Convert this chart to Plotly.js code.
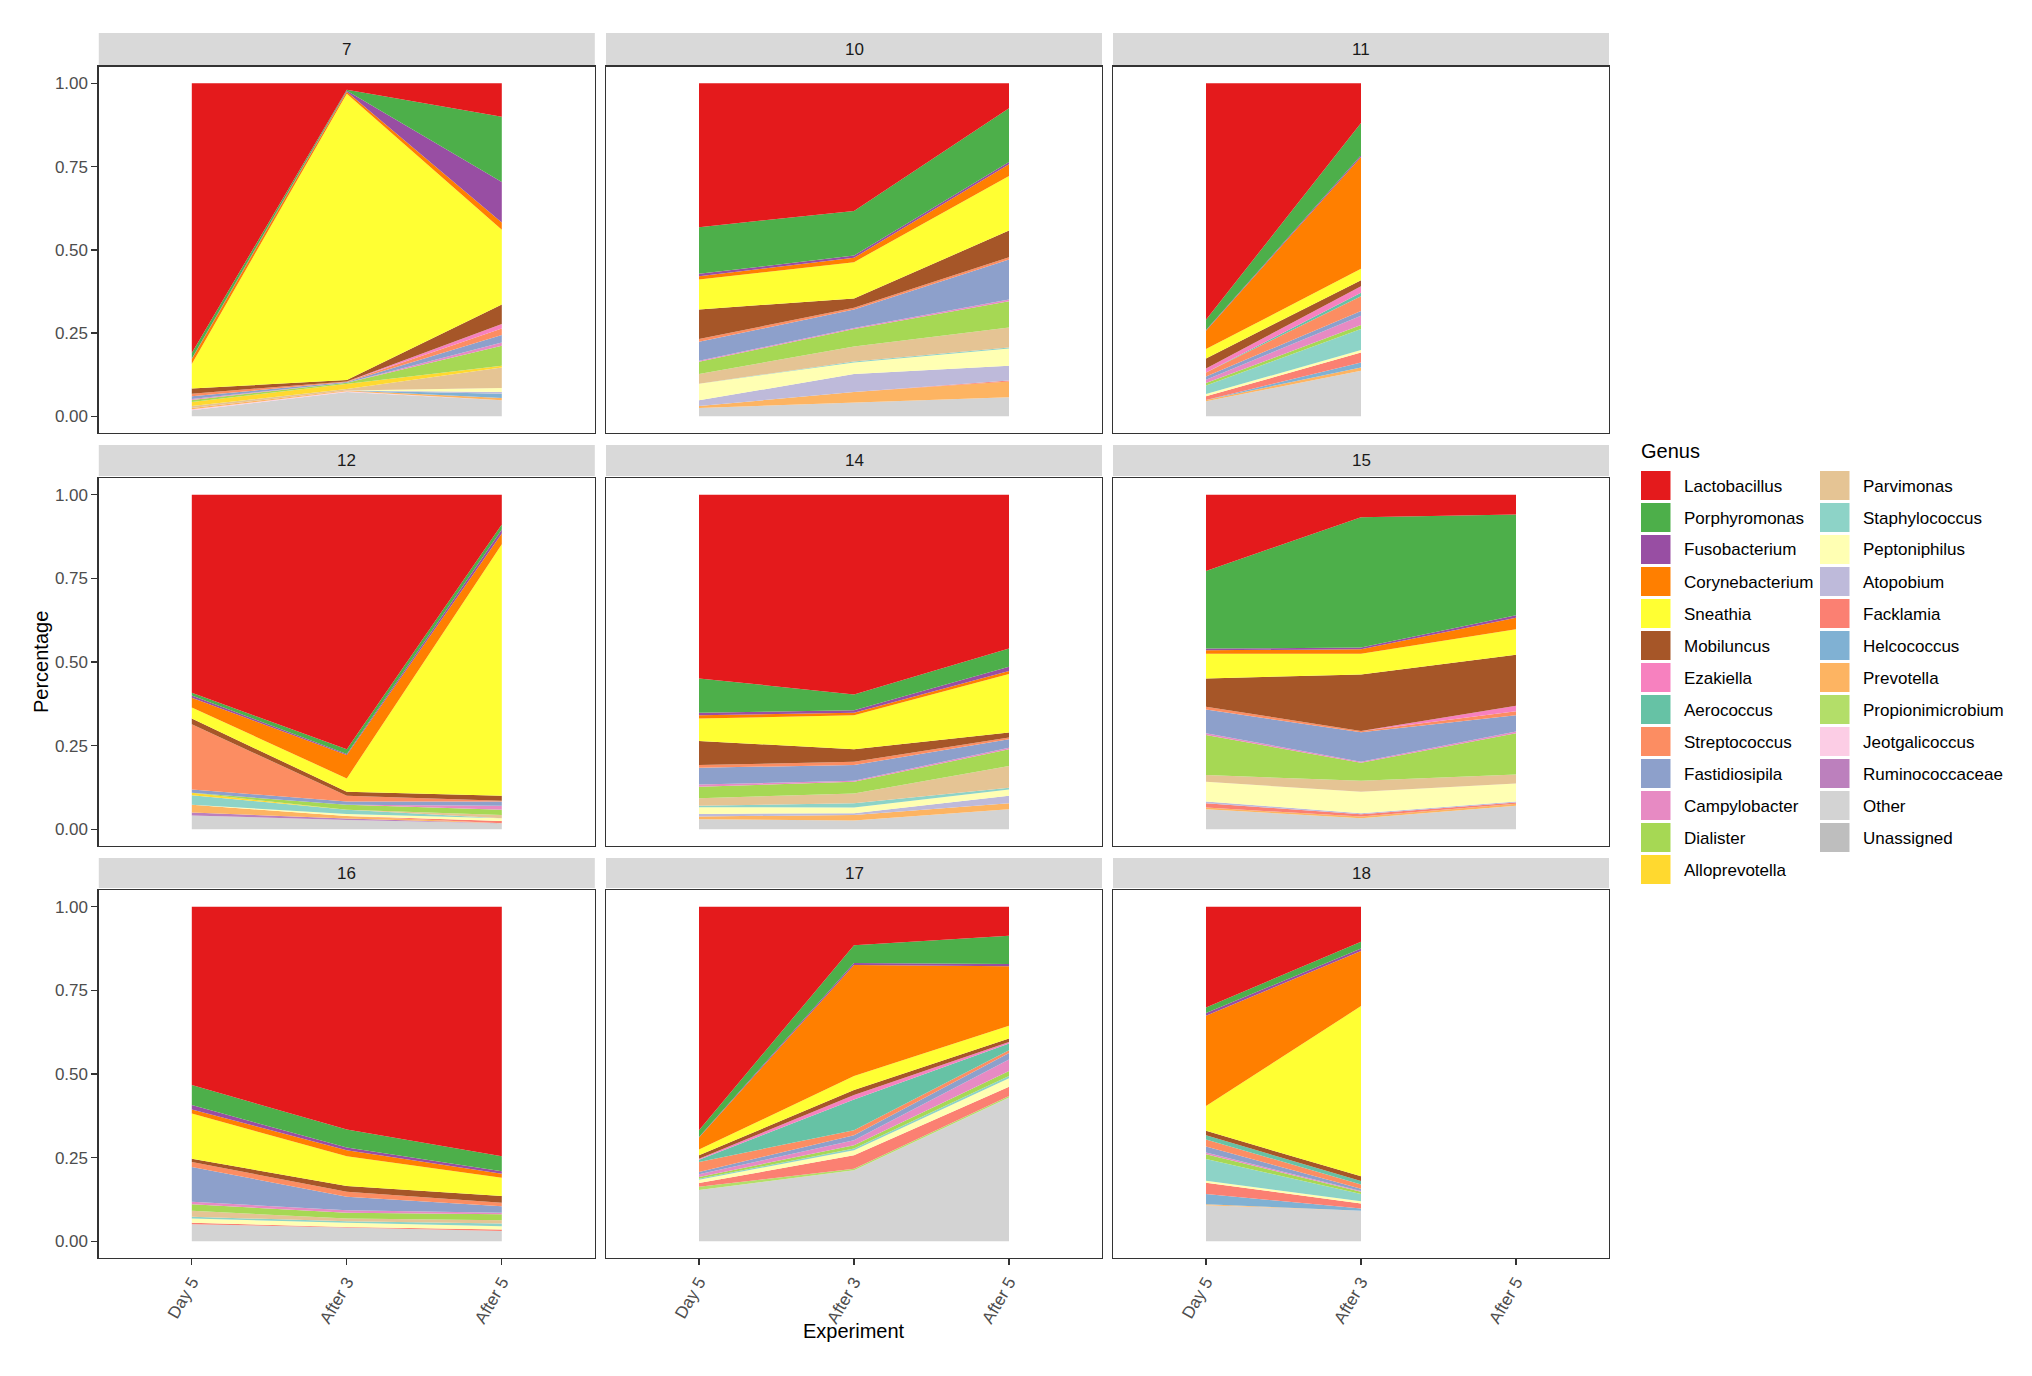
<!DOCTYPE html>
<html>
<head>
<meta charset="utf-8">
<script src="https://cdn.plot.ly/plotly-3.0.1.min.js"></script>
<style>html,body{margin:0;padding:0;background:#fff}#chart{width:2032px;height:1376px}</style>
</head>
<body>
<div id="chart"></div>
<script>
// ---------- data ----------
const categories = ['Day 5', 'After 3', 'After 5'];
const facets = ['7', '10', '11', '12', '14', '15', '16', '17', '18'];
const genera = ['Lactobacillus','Porphyromonas','Fusobacterium','Corynebacterium','Sneathia','Mobiluncus','Ezakiella','Aerococcus','Streptococcus','Fastidiosipila','Campylobacter','Dialister','Alloprevotella','Parvimonas','Staphylococcus','Peptoniphilus','Atopobium','Facklamia','Helcococcus','Prevotella','Propionimicrobium','Jeotgalicoccus','Ruminococcaceae','Other','Unassigned'];
const colors = ['#E41A1C','#4DAF4A','#984EA3','#FF7F00','#FFFF33','#A65628','#F781BF','#66C2A5','#FC8D62','#8DA0CB','#E78AC3','#A6D854','#FFD92F','#E5C494','#8DD3C7','#FFFFB3','#BEBADA','#FB8072','#80B1D3','#FDB462','#B3DE69','#FCCDE5','#BC80BD','#D3D3D3','#BEBEBE'];

// rows follow the order of `genera`; columns follow `categories`
const f7 = [
  [0.810,0.019,0.100],[0.016,0.003,0.196],[0.002,0.003,0.122],[0.015,0.006,0.022],[0.073,0.860,0.224],
  [0.016,0.004,0.059],[0,0,0.013],[0,0,0],[0.008,0.002,0.020],[0.008,0.002,0.022],
  [0.003,0,0.010],[0.006,0.004,0.060],[0.012,0.015,0.005],[0.006,0.004,0.062],[0,0,0],
  [0,0,0.012],[0,0,0.005],[0,0,0],[0,0,0.013],[0.004,0.003,0.007],
  [0,0,0],[0.003,0.002,0],[0,0,0],[0.018,0.073,0.048],[0,0,0]
];
const f10 = [
  [0.432,0.383,0.075],[0.140,0.134,0.161],[0.007,0.007,0.007],[0.010,0.013,0.035],[0.090,0.109,0.164],
  [0.089,0.028,0.080],[0,0,0],[0,0,0],[0.008,0.005,0.007],[0.057,0.056,0.120],
  [0.003,0.003,0.005],[0.037,0.052,0.079],[0,0,0],[0.029,0.045,0.060],[0,0.003,0.003],
  [0.050,0.035,0.052],[0.017,0.054,0.044],[0,0,0.003],[0,0,0],[0.006,0.032,0.048],
  [0,0,0],[0,0,0],[0,0,0],[0.025,0.041,0.057],[0,0,0]
];
const f11 = [
  [0.710,0.119],[0.031,0.097],[0.002,0.005],[0.055,0.336],[0.028,0.034],
  [0.030,0.018],[0.012,0.020],[0,0.010],[0.012,0.045],[0.010,0.014],
  [0.010,0.028],[0.007,0.012],[0,0],[0,0],[0.026,0.063],
  [0.007,0.007],[0,0],[0.011,0.030],[0,0.015],[0.004,0.010],
  [0,0],[0,0],[0,0],[0.045,0.137],[0,0]
];
const f12 = [
  [0.592,0.761,0.089],[0.008,0.014,0.015],[0.007,0.003,0.012],[0.029,0.070,0.032],[0.033,0.040,0.752],
  [0.017,0.012,0.015],[0,0,0],[0,0,0],[0.195,0.017,0.002],[0.010,0.010,0.013],
  [0,0,0.012],[0,0.015,0.015],[0.007,0,0],[0,0,0.010],[0.029,0.012,0],
  [0,0.006,0.008],[0,0,0],[0,0,0.007],[0,0,0],[0.023,0.008,0],
  [0,0,0],[0,0,0],[0.009,0.004,0],[0.041,0.028,0.018],[0,0,0]
];
const f14 = [
  [0.549,0.597,0.460],[0.103,0.047,0.054],[0.007,0.008,0.013],[0.010,0.007,0.009],[0.067,0.102,0.175],
  [0.072,0.037,0.015],[0,0,0],[0,0,0],[0.008,0.010,0.005],[0.050,0.047,0.025],
  [0.007,0.003,0.005],[0.034,0.035,0.050],[0,0,0],[0.023,0.029,0.065],[0.004,0.013,0.005],
  [0.020,0.017,0.019],[0.008,0.005,0.022],[0,0,0],[0,0,0],[0.008,0.017,0.018],
  [0,0,0],[0,0,0],[0,0,0],[0.030,0.026,0.060],[0,0,0]
];
const f15 = [
  [0.228,0.067,0.059],[0.232,0.390,0.301],[0.005,0.005,0.008],[0.010,0.013,0.034],[0.074,0.062,0.076],
  [0.085,0.169,0.153],[0,0,0.016],[0,0,0],[0.008,0.004,0.012],[0.071,0.088,0.049],
  [0.005,0.003,0.005],[0.120,0.054,0.123],[0,0,0],[0.020,0.033,0.027],[0,0,0],
  [0.059,0.064,0.054],[0.005,0.003,0.003],[0.013,0.007,0.004],[0,0,0],[0.005,0.005,0.006],
  [0,0,0],[0,0,0],[0,0,0],[0.060,0.033,0.070],[0,0,0]
];
const f16 = [
  [0.533,0.666,0.746],[0.060,0.054,0.045],[0.013,0.008,0.007],[0.012,0.018,0.012],[0.135,0.089,0.055],
  [0.010,0.017,0.020],[0,0,0],[0,0,0],[0.015,0.015,0.010],[0.104,0.040,0.020],
  [0.007,0.008,0.004],[0.020,0.017,0.018],[0,0,0],[0.018,0.008,0.010],[0.005,0.005,0.008],
  [0.013,0.012,0.010],[0,0,0],[0.004,0.003,0.004],[0,0,0],[0,0,0],
  [0,0,0],[0,0,0],[0,0,0],[0.051,0.040,0.031],[0,0,0]
];
const f17 = [
  [0.668,0.115,0.087],[0.020,0.053,0.084],[0.002,0.006,0.007],[0.036,0.332,0.178],[0.017,0.042,0.038],
  [0.010,0.015,0.010],[0.003,0.013,0.005],[0.007,0.092,0.020],[0.030,0.015,0.008],[0.007,0.015,0.020],
  [0.008,0.015,0.034],[0.005,0.010,0.015],[0,0,0],[0,0,0],[0.003,0.005,0.007],
  [0.010,0.015,0.025],[0,0,0],[0.011,0.040,0.028],[0,0,0],[0,0,0],
  [0.010,0.005,0.004],[0,0,0],[0,0,0],[0.153,0.212,0.430],[0,0,0]
];
const f18 = [
  [0.301,0.105],[0.017,0.020],[0.008,0.007],[0.270,0.165],[0.074,0.509],
  [0.013,0.014],[0,0],[0.013,0.010],[0.021,0.013],[0.018,0.007],
  [0.005,0.002],[0.014,0.007],[0,0],[0,0],[0.065,0.021],
  [0.006,0.007],[0,0],[0.034,0.015],[0.030,0.007],[0.003,0],
  [0,0],[0,0],[0,0],[0.108,0.091],[0,0]
];
const facetData = [f7, f10, f11, f12, f14, f15, f16, f17, f18];

// ---------- layout geometry (pixels) ----------
const W = 2032, H = 1376;
const colX = [[98.8, 594.8], [606, 1102], [1113, 1609]];
const rowY = [[66.7, 433], [478, 846], [890, 1258]];
const stripY = [[33, 65], [445, 476], [858, 888]];
const px = x => x / W;
const py = y => 1 - y / H;

const FONT = '"Liberation Sans", Arial, Helvetica, sans-serif';
const traces = [];
const layout = {
  width: W, height: H,
  margin: {l: 0, r: 0, t: 0, b: 0, pad: 0},
  paper_bgcolor: '#ffffff', plot_bgcolor: '#ffffff',
  showlegend: false,
  font: {family: FONT, size: 17, color: '#4D4D4D'},
  shapes: [], annotations: []
};

facets.forEach((name, k) => {
  const r = Math.floor(k / 3), c = k % 3;
  const sfx = k === 0 ? '' : String(k + 1);
  const data = facetData[k];
  // stack from bottom (last genus) to top (first genus)
  for (let g = genera.length - 1; g >= 0; g--) {
    const vals = data[g];
    traces.push({
      type: 'scatter',
      x: categories.slice(0, vals.length).map((_, i) => i + 1),
      y: vals,
      name: genera[g],
      xaxis: 'x' + sfx, yaxis: 'y' + sfx,
      stackgroup: 'facet' + name,
      mode: 'lines',
      line: {width: 0, color: colors[g]},
      fillcolor: colors[g],
      hoverinfo: 'name+y'
    });
  }
  const isLeft = c === 0, isBottom = r === 2;
  layout['xaxis' + sfx] = {
    domain: [px(colX[c][0]), px(colX[c][1])],
    anchor: 'y' + sfx,
    range: [0.4, 3.6],
    tickvals: categories.map((_, i) => i + 1),
    ticktext: categories,
    showticklabels: isBottom,
    ticks: isBottom ? 'outside' : '',
    ticklen: 6, tickwidth: 1.3, tickcolor: '#333333',
    tickangle: -60,
    tickfont: {family: FONT, size: 17, color: '#4D4D4D'},
    showline: true, mirror: true, linecolor: '#333333', linewidth: 1.4,
    showgrid: false, zeroline: false, fixedrange: true
  };
  layout['yaxis' + sfx] = {
    domain: [py(rowY[r][1]), py(rowY[r][0])],
    anchor: 'x' + sfx,
    range: [-0.05, 1.05],
    tickvals: [0, 0.25, 0.5, 0.75, 1],
    ticktext: ['0.00', '0.25', '0.50', '0.75', '1.00'],
    showticklabels: isLeft,
    ticks: isLeft ? 'outside' : '',
    ticklen: 6, tickwidth: 1.3, tickcolor: '#333333',
    tickfont: {family: FONT, size: 17, color: '#4D4D4D'},
    showline: true, mirror: true, linecolor: '#333333', linewidth: 1.4,
    showgrid: false, zeroline: false, fixedrange: true
  };
  // facet strip
  layout.shapes.push({
    type: 'rect', xref: 'paper', yref: 'paper', layer: 'below',
    x0: px(colX[c][0]), x1: px(colX[c][1]), y0: py(stripY[r][1]), y1: py(stripY[r][0]),
    fillcolor: '#D9D9D9', line: {width: 0}
  });
  layout.annotations.push({
    xref: 'paper', yref: 'paper', showarrow: false,
    x: px((colX[c][0] + colX[c][1]) / 2), y: py((stripY[r][0] + stripY[r][1]) / 2),
    xanchor: 'center', yanchor: 'middle',
    text: name, font: {family: FONT, size: 17, color: '#1A1A1A'}
  });
});

// axis titles
layout.annotations.push({
  xref: 'paper', yref: 'paper', showarrow: false,
  x: px(854), y: py(1331), xanchor: 'center', yanchor: 'middle',
  text: 'Experiment', font: {family: FONT, size: 20, color: '#000000'}
});
layout.annotations.push({
  xref: 'paper', yref: 'paper', showarrow: false, textangle: -90,
  x: px(41), y: py(662), xanchor: 'center', yanchor: 'middle',
  text: 'Percentage', font: {family: FONT, size: 20, color: '#000000'}
});

// legend (two columns, ggplot style)
layout.annotations.push({
  xref: 'paper', yref: 'paper', showarrow: false,
  x: px(1639), y: py(451), xanchor: 'left', yanchor: 'middle',
  text: 'Genus', font: {family: FONT, size: 20, color: '#000000'}
});
const perCol = 13;
genera.forEach((g, i) => {
  const col = Math.floor(i / perCol), row = i % perCol;
  const kx0 = col === 0 ? 1641 : 1820;
  const top = 471 + row * 32;
  layout.shapes.push({
    type: 'rect', xref: 'paper', yref: 'paper',
    x0: px(kx0), x1: px(kx0 + 29.5), y0: py(top + 29), y1: py(top),
    fillcolor: colors[i], line: {width: 0}
  });
  layout.annotations.push({
    xref: 'paper', yref: 'paper', showarrow: false,
    x: px(kx0 + 41), y: py(top + 15), xanchor: 'left', yanchor: 'middle',
    text: g, font: {family: FONT, size: 17, color: '#000000'}
  });
});

Plotly.newPlot('chart', traces, layout, {staticPlot: true, displayModeBar: false});
</script>
</body>
</html>
